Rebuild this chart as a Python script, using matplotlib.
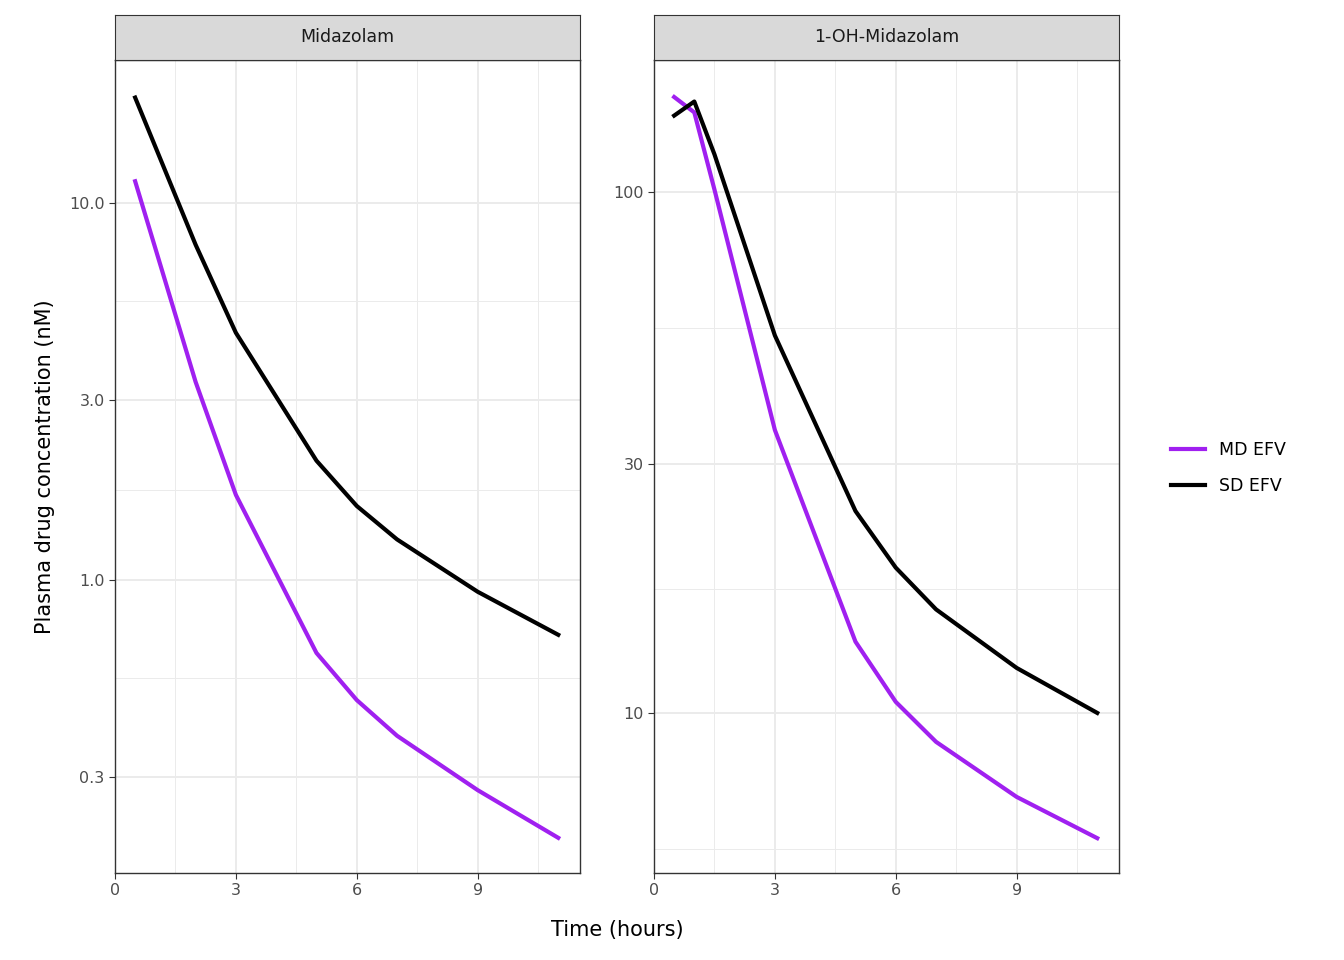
import matplotlib
matplotlib.use("Agg")
import matplotlib.pyplot as plt
import numpy as np

panels = ["Midazolam", "1-OH-Midazolam"]
series = ["MD EFV", "SD EFV"]
colors = {"MD EFV": "#A020F0", "SD EFV": "#000000"}

mdz_time = [0.5, 2, 3, 5, 6, 7, 9, 11]
mdz_md = [11.4, 3.35, 1.68, 0.64, 0.48, 0.386, 0.277, 0.207]
mdz_sd = [19.0, 7.74, 4.52, 2.07, 1.57, 1.28, 0.93, 0.715]

oh_time = [0.5, 1, 1.5, 3, 5, 6, 7, 9, 11]
oh_md = [152, 142, 101, 34.9, 13.7, 10.5, 8.8, 6.9, 5.75]
oh_sd = [140, 149, 118, 53, 24.4, 19.0, 15.8, 12.2, 10.0]

data = {
    "Midazolam": (mdz_time, {"MD EFV": mdz_md, "SD EFV": mdz_sd}),
    "1-OH-Midazolam": (oh_time, {"MD EFV": oh_md, "SD EFV": oh_sd}),
}
ylims = {"Midazolam": (0.167, 23.9), "1-OH-Midazolam": (4.93, 179)}
yticks = {"Midazolam": [0.3, 1.0, 3.0, 10.0], "1-OH-Midazolam": [10, 30, 100]}
ylabels = {"Midazolam": ["0.3", "1.0", "3.0", "10.0"], "1-OH-Midazolam": ["10", "30", "100"]}
yminor = {"Midazolam": [0.548, 1.732, 5.477], "1-OH-Midazolam": [5.477, 17.32, 54.77]}

W, H = 1344, 960
fig = plt.figure(figsize=(W / 100, H / 100), dpi=100)

lefts = [115, 654]
pw, top, bottom = 465, 60, 873
for name, left in zip(panels, lefts):
    ax = fig.add_axes([left / W, 1 - bottom / H, pw / W, (bottom - top) / H])
    t, vals = data[name]
    for s in series:
        ax.plot(t, vals[s], color=colors[s], lw=3, label=s, zorder=3)
    ax.set_yscale("log")
    ax.set_ylim(*ylims[name])
    ax.set_xlim(0, 11.54)
    ax.set_yticks(yticks[name])
    ax.set_yticklabels(ylabels[name])
    ax.set_yticks(yminor[name], minor=True)
    ax.set_yticklabels([], minor=True)
    ax.set_xticks([0, 3, 6, 9])
    ax.set_xticks([1.5, 4.5, 7.5, 10.5], minor=True)
    ax.grid(which="major", color="#EBEBEB", lw=1.4)
    ax.grid(which="minor", color="#EBEBEB", lw=0.7)
    ax.tick_params(which="minor", length=0)
    ax.tick_params(which="major", colors="#333333", labelsize=11.5, length=4)
    ax.tick_params(axis="both", labelcolor="#4D4D4D")
    for sp in ax.spines.values():
        sp.set_color("#333333")
        sp.set_linewidth(1)
    # facet strip
    sax = fig.add_axes([left / W, 1 - top / H, pw / W, 45 / H])
    sax.set_facecolor("#D9D9D9")
    sax.set_xticks([])
    sax.set_yticks([])
    for sp in sax.spines.values():
        sp.set_color("#333333")
    sax.text(0.5, 0.5, name, ha="center", va="center", fontsize=12.5, color="#1A1A1A")
    if name == "Midazolam":
        ax.set_ylabel("Plasma drug concentration (nM)", fontsize=15, labelpad=10)
    else:
        handles, labels = ax.get_legend_handles_labels()

fig.text((115 + 1119) / 2 / W, 1 - 930 / H, "Time (hours)", ha="center", va="center", fontsize=15)
fig.legend(handles, labels, loc="center left", bbox_to_anchor=(1155 / W, 1 - 468 / H),
           frameon=False, fontsize=12.5, handlelength=2, labelspacing=1.0)
fig.savefig("out.png", dpi=100)
